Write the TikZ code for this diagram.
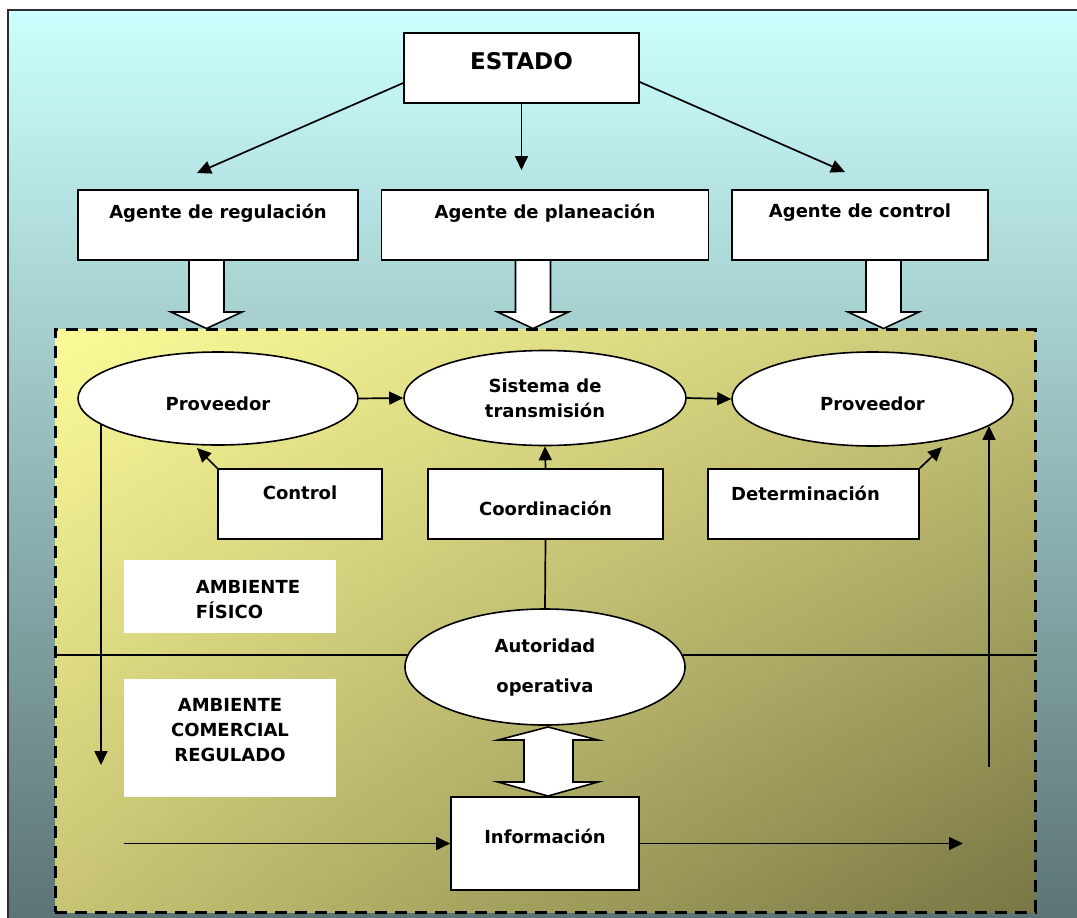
\documentclass[tikz,border=0pt]{standalone}
\usepackage{fontspec}
\setmainfont{DejaVu Sans}
\usetikzlibrary{arrows.meta,calc,shapes.geometric,shadings}

\definecolor{skytop}{RGB}{204,255,255}
\definecolor{skybot}{RGB}{92,116,116}
\definecolor{zoneUL}{RGB}{252,251,152}
\definecolor{zoneUR}{RGB}{200,198,118}
\definecolor{zoneLL}{RGB}{200,196,116}
\definecolor{zoneLR}{RGB}{120,118,68}
\definecolor{framegray}{RGB}{45,45,45}

\tikzset{
  lbl/.style={font=\bfseries\fontsize{18}{25}\selectfont, text=black, inner sep=0pt},
  box/.style={draw=black, line width=1.6pt, fill=white, inner sep=0pt},
  oval/.style={draw=black, line width=1.6pt, fill=white, ellipse, inner sep=0pt},
  tag/.style={fill=white, inner sep=0pt},
  arr/.style={line width=1.7pt, -{Triangle[length=14pt,width=13pt]}},
  link/.style={line width=1.7pt},
  fat/.style={draw=black, line width=1.6pt, fill=white, line join=miter},
}

\begin{document}
\begin{tikzpicture}[x=1pt,y=-1pt]
\useasboundingbox (0,0) rectangle (1077,918);
\clip (0,0) rectangle (1077,918);

% page and outer frame
\fill[white] (0,0) rectangle (1077,918);
\shade[top color=skytop, bottom color=skybot] (8,10) rectangle (1077,918);
\draw[framegray, line width=2pt] (8,930) -- (8,10) -- (1090,10);

% dashed environment zone
\node[draw=black, line width=3pt, dash pattern=on 12pt off 8pt, inner sep=0pt,
      minimum width=980, minimum height=583,
      shade, upper left=zoneUL, upper right=zoneUR, lower left=zoneLL, lower right=zoneLR]
      (zone) at (545,620.5) {};

% state and agents
\node[box, minimum width=235, minimum height=70,
      label={[lbl, font=\bfseries\fontsize{23}{28}\selectfont, yshift=7pt]center:ESTADO}] (estado) at (521.5,68) {};
\node[box, minimum width=280, minimum height=70,
      label={[lbl, yshift=12pt]center:Agente de regulación}] (areg) at (218,225) {};
\node[box, minimum width=327, minimum height=70,
      label={[lbl, yshift=12pt]center:Agente de planeación}] (apla) at (545,225) {};
\node[box, minimum width=256, minimum height=70,
      label={[lbl, yshift=12pt]center:Agente de control}] (actl) at (860,225) {};

\coordinate (t1) at (197,173);
\coordinate (t2) at (521.5,170);
\coordinate (t3) at (845,172);
\draw[arr] ($(estado.west)+(0,15)$) -- (t1);
\draw[arr] (estado.south) -- (t2);
\draw[arr] ($(estado.east)+(0,14)$) -- (t3);

% hollow block arrows into the zone
\foreach \c in {206.5,533,883.5}{
  \draw[fat] (\c-17.5,260) -- (\c+17.5,260) -- (\c+17.5,312) -- (\c+35.5,312)
             -- (\c,328.5) -- (\c-35.5,312) -- (\c-17.5,312) -- cycle;
}

% physical environment
\node[oval, minimum width=280, minimum height=93,
      label={[lbl, yshift=-5pt]center:Proveedor}] (prov1) at (218,398.5) {};
\node[oval, minimum width=282, minimum height=95,
      label={[lbl, align=center]center:Sistema de\\transmisión}] (sist) at (545,398) {};
\node[oval, minimum width=281, minimum height=94,
      label={[lbl, yshift=-5pt]center:Proveedor}] (prov2) at (872.5,399) {};

\draw[arr] (prov1.east) -- (sist.west);
\draw[arr] (sist.east) -- (prov2.west);

\node[box, minimum width=164, minimum height=70,
      label={[lbl, yshift=11pt]center:Control}] (ctrl) at (300,504) {};
\node[box, minimum width=235, minimum height=70,
      label={[lbl, yshift=-4pt]center:Coordinación}] (coord) at (545.5,504) {};
\node[box, minimum width=211, minimum height=70,
      label={[lbl, xshift=-8pt, yshift=11pt]center:Determinación}] (det) at (813.5,504) {};

\coordinate (ctip) at (197,448);
\coordinate (dtip) at (942,447);
\draw[arr] (ctrl.north west) -- (ctip);
\draw[arr] (det.north east) -- (dtip);
\draw[arr] (coord.north) -- (sist.south);

\node[tag, minimum width=212, minimum height=73,
      label={[lbl, align=left, xshift=18pt, yshift=-3pt]center:AMBIENTE\\FÍSICO}] (fis) at (230,596.5) {};

% operating authority and commercial environment
\node[oval, minimum width=280, minimum height=116,
      label={[lbl, font=\bfseries\fontsize{18}{40}\selectfont, align=center, yshift=-1pt]center:Autoridad\\operativa}] (aut) at (545,667) {};
\draw[link] (coord.south) -- (aut.north);
\draw[link] (zone.west |- aut.175) -- (aut.175);
\draw[link] (aut.5) -- (zone.east |- aut.5);

\node[tag, minimum width=212, minimum height=118,
      label={[lbl, align=center, yshift=8pt]center:AMBIENTE\\COMERCIAL\\REGULADO}] (com) at (230,738) {};

\node[box, minimum width=188, minimum height=93,
      label={[lbl, yshift=7pt]center:Información}] (info) at (545,843.5) {};

\draw[fat] (548,727) -- (598,740) -- (573,740) -- (573,782) -- (598,782) -- (548,796)
           -- (498,782) -- (524,782) -- (524,740) -- (498,740) -- cycle;

\coordinate (inL) at (124,843.5);
\coordinate (outR) at (963,843.5);
\draw[arr] (inL) -- (info.west);
\draw[arr] (info.east) -- (outR);

\coordinate (ldn) at (101,765);
\coordinate (rup) at (989,767);
\draw[arr] (ldn |- prov1.192) -- (ldn);
\draw[arr] (rup) -- (rup |- prov2.347);

\end{tikzpicture}
\end{document}
